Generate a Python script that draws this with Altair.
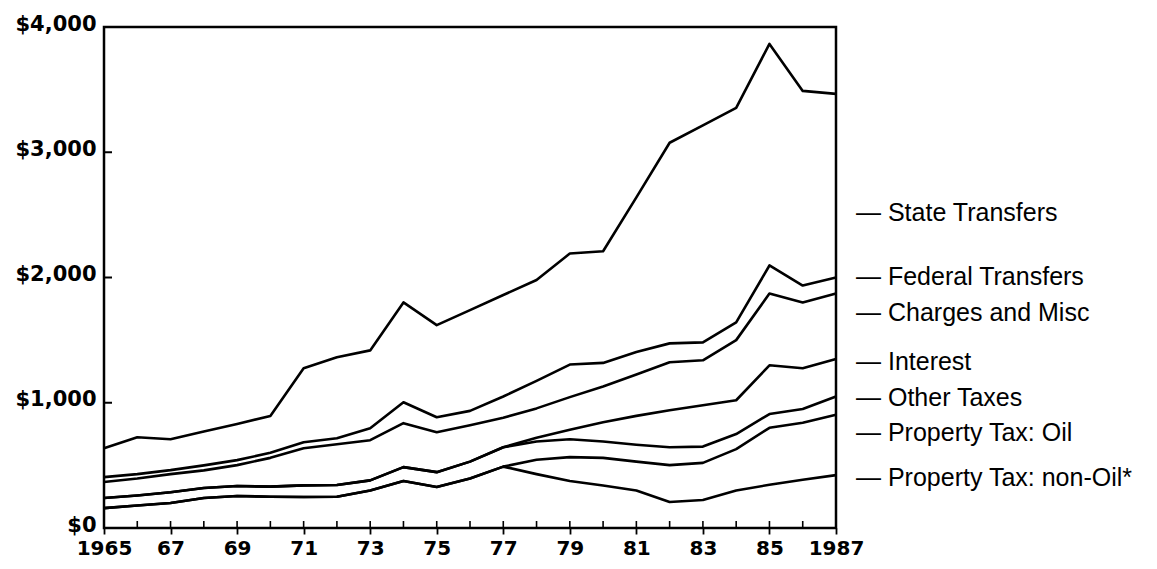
import altair as alt
import pandas as pd

# Years on the x axis
years = list(range(1965, 1988))

# Level (top edge) of each stacked band, dollars per capita
state_transfers_top = [637, 725, 709, 770, 830, 895, 1275, 1363, 1418, 1801, 1620, 1740,
                       1860, 1980, 2191, 2210, 2640, 3076, 3215, 3355, 3865, 3490, 3466]
federal_transfers_top = [406, 430, 462, 500, 542, 600, 685, 717, 797, 1004, 884, 935,
                         1050, 1175, 1305, 1318, 1405, 1474, 1482, 1641, 2096, 1936, 2000]
charges_misc_top = [367, 395, 430, 460, 502, 560, 637, 669, 701, 837, 765, 820,
                    880, 955, 1045, 1130, 1225, 1323, 1339, 1500, 1872, 1801, 1872]
interest_top = [239, 260, 285, 319, 335, 330, 340, 343, 380, 486, 446, 530,
                645, 720, 785, 845, 895, 940, 980, 1020, 1299, 1275, 1350]
other_taxes_top = [239, 260, 285, 319, 335, 330, 340, 343, 380, 486, 446, 530,
                   645, 690, 709, 690, 665, 645, 650, 750, 910, 950, 1050]
property_oil_top = [159, 180, 200, 239, 255, 250, 247, 250, 300, 375, 327, 395,
                    490, 545, 566, 560, 530, 502, 520, 630, 800, 840, 905]
property_nonoil_top = [159, 180, 200, 239, 255, 250, 247, 250, 300, 375, 327, 395,
                       490, 430, 375, 340, 300, 207, 223, 300, 345, 385, 422]

series_names = ["State Transfers", "Federal Transfers", "Charges and Misc", "Interest",
                "Other Taxes", "Property Tax: Oil", "Property Tax: non-Oil*"]
series_values = [state_transfers_top, federal_transfers_top, charges_misc_top, interest_top,
                 other_taxes_top, property_oil_top, property_nonoil_top]

# Axis ticks and labels
x_tick_years = [1965, 1967, 1969, 1971, 1973, 1975, 1977, 1979, 1981, 1983, 1985, 1987]
x_tick_labels = ["1965", "67", "69", "71", "73", "75", "77", "79", "81", "83", "85", "1987"]
y_tick_values = [0, 1000, 2000, 3000, 4000]
y_tick_labels = ["$0", "$1,000", "$2,000", "$3,000", "$4,000"]

# Right-hand annotation text and its vertical placement (pixels from plot top)
label_texts = ["— State Transfers", "— Federal Transfers", "— Charges and Misc", "— Interest",
               "— Other Taxes", "— Property Tax: Oil", "— Property Tax: non-Oil*"]
label_offsets = [186, 250, 286, 335, 371, 406, 451]

W, H = 732, 501

rows = []
for name, vals in zip(series_names, series_values):
    for yr, v in zip(years, vals):
        rows.append({"year": yr, "value": v, "series": name})
df = pd.DataFrame(rows)


def label_expr(values, labels):
    expr = "''"
    for v, l in zip(values, labels):
        expr = f"datum.value == {v} ? '{l}' : ({expr})"
    return expr


x_scale = alt.Scale(domain=[1965, 1987], nice=False, zero=False)
y_scale = alt.Scale(domain=[0, 4000], nice=False)

x_axis = alt.Axis(values=x_tick_years, labelExpr=label_expr(x_tick_years, x_tick_labels),
                  title=None, grid=False, domain=False, tickSize=6, tickWidth=1.8,
                  tickColor="black", labelFont="DejaVu Sans", labelFontWeight="bold",
                  labelFontSize=20, labelColor="black", labelPadding=4,
                  labelFlush=False, labelOverlap=False)
y_axis = alt.Axis(values=y_tick_values, labelExpr=label_expr(y_tick_values, y_tick_labels),
                  title=None, grid=False, domain=False, ticks=False,
                  labelFont="DejaVu Sans", labelFontWeight="bold", labelFontSize=21,
                  labelColor="black", labelPadding=8, labelFlush=False,
                  labelOffset=-3, labelOverlap=False)

lines = alt.Chart(df).mark_line(color="black", strokeWidth=2.6, strokeJoin="round").encode(
    x=alt.X("year:Q", scale=x_scale, axis=x_axis),
    y=alt.Y("value:Q", scale=y_scale, axis=y_axis),
    detail="series:N",
)

year_ticks = alt.Chart(pd.DataFrame({"year": years})).mark_rule(
    color="black", strokeWidth=1.6).encode(
    x=alt.X("year:Q", scale=x_scale, axis=x_axis),
    y=alt.value(H), y2=alt.value(H - 7),
)

value_ticks = alt.Chart(pd.DataFrame({"value": y_tick_values[1:-1]})).mark_rule(
    color="black", strokeWidth=2).encode(
    y=alt.Y("value:Q", scale=y_scale, axis=y_axis),
    x=alt.value(0), x2=alt.value(8),
)

label_layers = []
for txt, off in zip(label_texts, label_offsets):
    label_layers.append(
        alt.Chart(pd.DataFrame({"t": [txt]})).mark_text(
            align="left", baseline="middle", font="Liberation Sans", fontSize=25,
            color="black").encode(
            x=alt.value(W + 20), y=alt.value(off), text="t:N")
    )

chart = alt.layer(lines, year_ticks, value_ticks, *label_layers).properties(
    width=W, height=H,
    padding={"left": 96, "top": 19, "right": 313, "bottom": 33},
    autosize=alt.AutoSizeParams(type="none"),
    background="white",
).configure_view(stroke="black", strokeWidth=2.5)

chart.save("out.html", embed_options={"renderer": "svg", "actions": False})
